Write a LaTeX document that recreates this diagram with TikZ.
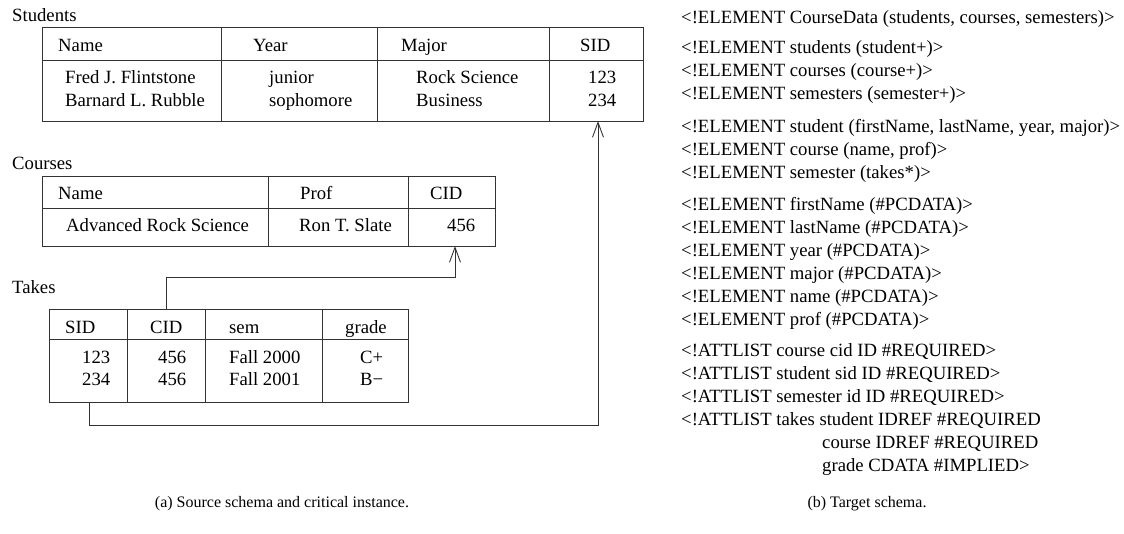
\documentclass[tikz,border=0pt]{standalone}
\usepackage{fontspec}
\setmainfont{Liberation Serif}
\usetikzlibrary{arrows.meta}

\tikzset{
    txt/.style={anchor=west, inner sep=0pt, text height=12pt, text depth=0pt,
        font=\fontsize{18.7}{23}\selectfont},
    captxt/.style={inner sep=0pt, font=\fontsize{16}{20}\selectfont},
    tabline/.style={line width=0.9pt, black!80},
    link/.style={line width=0.9pt, black!80, -{Straight Barb[length=15pt,width=11pt]}},
}

\begin{document}
\begin{tikzpicture}[x=1pt, y=-1pt]
    \useasboundingbox (0, 0) rectangle (1124, 533);

    % Students
    \node[txt] (lstud) at (12, 15) {Students};
    \draw[tabline] (42, 27) rectangle (643, 121);
    \draw[tabline] (42, 60) to (643, 60);
    \draw[tabline] (221, 27) to (221, 121);
    \draw[tabline] (377, 27) to (377, 121);
    \draw[tabline] (549, 27) to (549, 121);
    \node[txt] (sh1) at (58, 45) {Name};
    \node[txt] (sh2) at (253, 45) {Year};
    \node[txt] (sh3) at (401, 45) {Major};
    \node[txt] (sh4) at (580, 45) {SID};
    \node[txt] (s11) at (65, 77) {Fred J. Flintstone};
    \node[txt] (s12) at (269, 77) {junior};
    \node[txt] (s13) at (416, 77) {Rock Science};
    \node[txt] (s14) at (588, 77) {123};
    \node[txt] (s21) at (65, 100) {Barnard L. Rubble};
    \node[txt] (s22) at (269, 100) {sophomore};
    \node[txt] (s23) at (416, 100) {Business};
    \node[txt] (s24) at (588, 100) {234};

    % Courses
    \node[txt] (lcour) at (12, 163) {Courses};
    \draw[tabline] (42, 176) rectangle (495, 246);
    \draw[tabline] (42, 208) to (495, 208);
    \draw[tabline] (268, 176) to (268, 246);
    \draw[tabline] (408, 176) to (408, 246);
    \node[txt] (ch1) at (58, 193) {Name};
    \node[txt] (ch2) at (300, 193) {Prof};
    \node[txt] (ch3) at (430, 193) {CID};
    \node[txt] (c11) at (66, 225) {Advanced Rock Science};
    \node[txt] (c12) at (299, 225) {Ron T. Slate};
    \node[txt] (c13) at (447, 225) {456};

    % Takes
    \node[txt] (ltake) at (12, 287) {Takes};
    \draw[tabline] (49, 309) rectangle (408, 402);
    \draw[tabline] (49, 339) to (408, 339);
    \draw[tabline] (127, 309) to (127, 402);
    \draw[tabline] (205, 309) to (205, 402);
    \draw[tabline] (322, 309) to (322, 402);
    \node[txt] (th1) at (65, 327) {SID};
    \node[txt] (th2) at (150, 327) {CID};
    \node[txt] (th3) at (229, 327) {sem};
    \node[txt] (th4) at (345, 327) {grade};
    \node[txt] (t11) at (82, 357) {123};
    \node[txt] (t12) at (158, 357) {456};
    \node[txt] (t13) at (229, 357) {Fall 2000};
    \node[txt] (t14) at (360, 357) {C+};
    \node[txt] (t21) at (82, 379) {234};
    \node[txt] (t22) at (158, 379) {456};
    \node[txt] (t23) at (229, 379) {Fall 2001};
    \node[txt] (t24) at (360, 379) {B\textminus};

    % foreign keys
    \coordinate (tcid) at (166, 309);
    \coordinate (tcidup) at (166, 277);
    \coordinate (ccid) at (455, 246);
    \coordinate (tsid) at (89, 402);
    \coordinate (tsiddown) at (89, 425);
    \coordinate (ssid) at (598, 121);
    \draw[link] (tcid) to (tcidup) -| (ccid);
    \draw[link] (tsid) to (tsiddown) -| (ssid);

    % target schema
    \node[txt] (d01) at (681, 17) {<!ELEMENT CourseData (students, courses, semesters)>};
    \node[txt] (d02) at (681, 47) {<!ELEMENT students (student+)>};
    \node[txt] (d03) at (681, 70) {<!ELEMENT courses (course+)>};
    \node[txt] (d04) at (681, 93) {<!ELEMENT semesters (semester+)>};
    \node[txt] (d05) at (681, 126) {<!ELEMENT student (firstName, lastName, year, major)>};
    \node[txt] (d06) at (681, 149) {<!ELEMENT course (name, prof)>};
    \node[txt] (d07) at (681, 172) {<!ELEMENT semester (takes*)>};
    \node[txt] (d08) at (681, 204) {<!ELEMENT firstName (\#PCDATA)>};
    \node[txt] (d09) at (681, 227) {<!ELEMENT lastName (\#PCDATA)>};
    \node[txt] (d10) at (681, 250) {<!ELEMENT year (\#PCDATA)>};
    \node[txt] (d11) at (681, 273) {<!ELEMENT major (\#PCDATA)>};
    \node[txt] (d12) at (681, 296) {<!ELEMENT name (\#PCDATA)>};
    \node[txt] (d13) at (681, 319) {<!ELEMENT prof (\#PCDATA)>};
    \node[txt] (d14) at (681, 350) {<!ATTLIST course cid ID \#REQUIRED>};
    \node[txt] (d15) at (681, 373) {<!ATTLIST student sid ID \#REQUIRED>};
    \node[txt] (d16) at (681, 396) {<!ATTLIST semester id ID \#REQUIRED>};
    \node[txt] (d17) at (681, 419) {<!ATTLIST takes student IDREF \#REQUIRED};
    \node[txt] (d18) at (822, 442) {course IDREF \#REQUIRED};
    \node[txt] (d19) at (822, 465) {grade CDATA \#IMPLIED>};

    % captions
    \node[captxt] (capa) at (282, 504) {(a) Source schema and critical instance.};
    \node[captxt] (capb) at (867, 504) {(b) Target schema.};
\end{tikzpicture}
\end{document}
